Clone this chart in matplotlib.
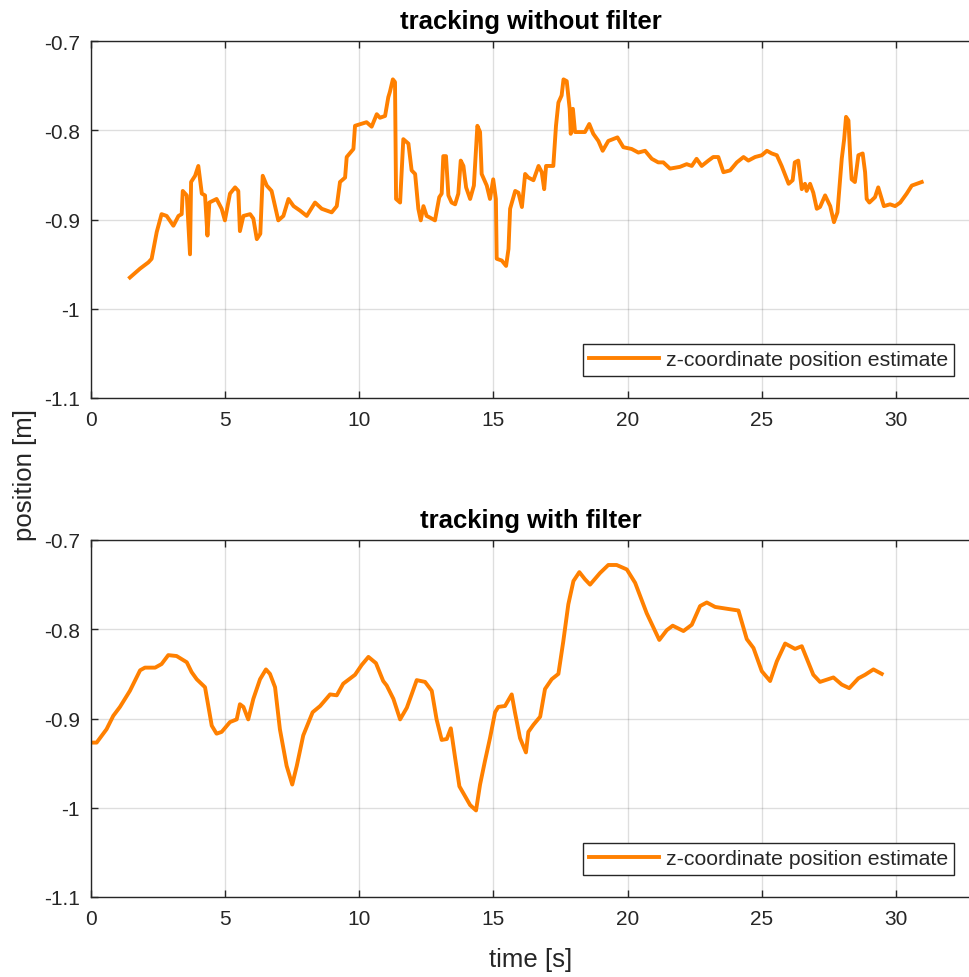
"""
z-coordinate tracking, with and without the filter
"""

import matplotlib
matplotlib.use('Agg')
from matplotlib import pyplot as plt

plt.rcParams['font.family'] = ['Liberation Sans', 'DejaVu Sans']

# raw estimate (no filter)
t_raw = [1.45, 1.83, 2.14, 2.26, 2.45, 2.63, 2.82, 3.07, 3.26, 3.38, 3.42, 3.57,
         3.69, 3.73, 3.88, 4.00, 4.13, 4.25, 4.34, 4.41, 4.68, 4.87, 4.99, 5.18,
         5.37, 5.49, 5.55, 5.68, 5.93, 6.05, 6.18, 6.31, 6.40, 6.55, 6.73, 6.98,
         7.17, 7.36, 7.55, 7.79, 8.04, 8.35, 8.60, 8.97, 9.16, 9.28, 9.47, 9.53,
         9.78, 9.84, 10.27, 10.46, 10.65, 10.77, 10.96, 11.08, 11.14, 11.25, 11.33,
         11.37, 11.52, 11.64, 11.83, 11.95, 12.08, 12.20, 12.29, 12.39, 12.51,
         12.64, 12.82, 12.98, 13.07, 13.13, 13.23, 13.32, 13.44, 13.57, 13.69,
         13.78, 13.88, 13.98, 14.13, 14.27, 14.40, 14.50, 14.56, 14.75, 14.87,
         14.99, 15.09, 15.12, 15.31, 15.47, 15.56, 15.62, 15.81, 15.93, 16.06,
         16.18, 16.30, 16.49, 16.68, 16.80, 16.89, 16.96, 17.23, 17.33, 17.42,
         17.54, 17.61, 17.73, 17.84, 17.88, 17.96, 18.04, 18.22, 18.41, 18.57,
         18.72, 18.91, 19.07, 19.28, 19.62, 19.84, 20.15, 20.40, 20.65, 20.90,
         21.14, 21.33, 21.58, 21.95, 22.20, 22.39, 22.57, 22.76, 23.01, 23.19,
         23.38, 23.57, 23.82, 24.07, 24.32, 24.50, 24.75, 25.00, 25.19, 25.37,
         25.56, 25.74, 26.00, 26.15, 26.23, 26.36, 26.49, 26.61, 26.67, 26.80,
         26.92, 27.05, 27.17, 27.36, 27.55, 27.69, 27.82, 27.92, 27.98, 28.07,
         28.14, 28.23, 28.30, 28.35, 28.47, 28.60, 28.76, 28.85, 28.91, 29.01,
         29.22, 29.34, 29.47, 29.55, 29.78, 29.97, 30.16, 30.40, 30.59, 30.77,
         30.96]
z_raw = [-0.965, -0.955, -0.948, -0.944, -0.914, -0.894, -0.896, -0.907, -0.896,
         -0.894, -0.868, -0.873, -0.939, -0.858, -0.851, -0.840, -0.871, -0.873,
         -0.918, -0.881, -0.877, -0.888, -0.901, -0.871, -0.864, -0.868, -0.913,
         -0.896, -0.894, -0.899, -0.922, -0.916, -0.851, -0.862, -0.868, -0.901,
         -0.896, -0.877, -0.885, -0.890, -0.896, -0.881, -0.888, -0.892, -0.885,
         -0.858, -0.853, -0.830, -0.821, -0.795, -0.791, -0.796, -0.782, -0.786,
         -0.784, -0.763, -0.757, -0.743, -0.746, -0.877, -0.881, -0.810, -0.815,
         -0.845, -0.849, -0.888, -0.901, -0.885, -0.896, -0.898, -0.901, -0.875,
         -0.871, -0.829, -0.829, -0.873, -0.881, -0.883, -0.871, -0.834, -0.840,
         -0.864, -0.877, -0.862, -0.795, -0.802, -0.849, -0.862, -0.877, -0.855,
         -0.877, -0.944, -0.946, -0.952, -0.933, -0.888, -0.868, -0.870, -0.886,
         -0.849, -0.853, -0.856, -0.840, -0.847, -0.866, -0.840, -0.840, -0.795,
         -0.769, -0.761, -0.743, -0.745, -0.776, -0.804, -0.776, -0.802, -0.802,
         -0.802, -0.793, -0.804, -0.812, -0.823, -0.812, -0.808, -0.819, -0.821,
         -0.825, -0.823, -0.832, -0.836, -0.836, -0.843, -0.841, -0.838, -0.840,
         -0.832, -0.840, -0.834, -0.830, -0.830, -0.847, -0.845, -0.836, -0.830,
         -0.834, -0.830, -0.828, -0.823, -0.826, -0.828, -0.840, -0.860, -0.856,
         -0.836, -0.834, -0.866, -0.860, -0.868, -0.860, -0.870, -0.888, -0.886,
         -0.873, -0.885, -0.903, -0.892, -0.855, -0.832, -0.810, -0.785, -0.789,
         -0.832, -0.855, -0.858, -0.828, -0.826, -0.847, -0.877, -0.881, -0.875,
         -0.864, -0.877, -0.885, -0.883, -0.885, -0.881, -0.871, -0.862, -0.860,
         -0.858]

# filtered estimate
t_filt = [0.00, 0.21, 0.58, 0.83, 1.08, 1.45, 1.83, 2.01, 2.39, 2.63, 2.88, 3.19,
          3.57, 3.75, 3.94, 4.25, 4.50, 4.68, 4.87, 5.18, 5.43, 5.55, 5.68, 5.86,
          6.05, 6.30, 6.52, 6.67, 6.86, 7.04, 7.29, 7.50, 7.67, 7.91, 8.26, 8.54,
          8.91, 9.16, 9.40, 9.84, 10.09, 10.34, 10.62, 10.89, 11.02, 11.27, 11.52,
          11.77, 11.95, 12.14, 12.45, 12.70, 12.88, 13.07, 13.26, 13.41, 13.57,
          13.73, 13.94, 14.13, 14.35, 14.50, 14.68, 14.87, 15.06, 15.18, 15.43,
          15.68, 15.80, 15.99, 16.21, 16.30, 16.49, 16.74, 16.92, 17.17, 17.42,
          17.60, 17.79, 17.98, 18.20, 18.41, 18.60, 18.97, 19.28, 19.59, 19.97,
          20.28, 20.71, 21.18, 21.46, 21.68, 22.08, 22.39, 22.70, 22.95, 23.26,
          23.69, 24.13, 24.44, 24.69, 25.00, 25.31, 25.56, 25.87, 26.24, 26.49,
          26.92, 27.17, 27.67, 27.98, 28.26, 28.60, 28.85, 29.16, 29.47]
z_filt = [-0.927, -0.927, -0.912, -0.897, -0.887, -0.869, -0.846, -0.843, -0.843,
          -0.839, -0.829, -0.830, -0.837, -0.848, -0.856, -0.865, -0.908, -0.917,
          -0.915, -0.904, -0.901, -0.884, -0.887, -0.901, -0.878, -0.856, -0.845,
          -0.850, -0.865, -0.912, -0.953, -0.974, -0.953, -0.919, -0.893, -0.886,
          -0.873, -0.874, -0.861, -0.851, -0.840, -0.831, -0.838, -0.858, -0.863,
          -0.878, -0.901, -0.888, -0.873, -0.857, -0.859, -0.869, -0.901, -0.924,
          -0.923, -0.911, -0.944, -0.976, -0.987, -0.997, -1.003, -0.974, -0.948,
          -0.922, -0.893, -0.887, -0.886, -0.873, -0.893, -0.922, -0.938, -0.915,
          -0.907, -0.898, -0.867, -0.856, -0.850, -0.814, -0.772, -0.746, -0.736,
          -0.744, -0.750, -0.737, -0.728, -0.728, -0.733, -0.748, -0.782, -0.812,
          -0.801, -0.796, -0.802, -0.795, -0.774, -0.770, -0.775, -0.777, -0.779,
          -0.811, -0.821, -0.847, -0.858, -0.836, -0.816, -0.822, -0.819, -0.851,
          -0.859, -0.854, -0.862, -0.866, -0.855, -0.851, -0.845, -0.850]

y_ticks = [-1.1, -1.0, -0.9, -0.8, -0.7]
y_tick_labels = ['-1.1', '-1', '-0.9', '-0.8', '-0.7']
x_ticks = [0, 5, 10, 15, 20, 25, 30]

LINE_COLOR = '#ff8000'
DARK = '#262626'


def style_axes(ax, title):
    """Boxed axes with light grid and inward ticks"""
    ax.set_xlim(0, 32.76)
    ax.set_ylim(-1.1, -0.7)
    ax.set_xticks(x_ticks)
    ax.set_yticks(y_ticks)
    ax.set_yticklabels(y_tick_labels)
    ax.grid(True, color=DARK, alpha=0.15, linewidth=1.0)
    ax.set_axisbelow(True)
    ax.tick_params(direction='in', length=5, width=1, color=DARK,
                   labelcolor=DARK, labelsize=15, top=True)
    ax.tick_params(axis='x', pad=9)
    ax.tick_params(axis='y', pad=8)
    ax.spines['right'].set_visible(False)
    for side in ('left', 'top', 'bottom'):
        ax.spines[side].set_color(DARK)
        ax.spines[side].set_linewidth(1.0)
    ax.set_title(title, fontsize=18.5, fontweight='bold', color='black', pad=9)
    leg = ax.legend(loc='lower right', bbox_to_anchor=(0.982, 0.062),
                    fontsize=15.3, frameon=True, fancybox=False,
                    framealpha=1, edgecolor=DARK, borderpad=0.3,
                    handlelength=3.3, handletextpad=0.3, borderaxespad=0)
    leg.get_frame().set_linewidth(1.0)
    for text in leg.get_texts():
        text.set_color(DARK)


fig = plt.figure(figsize=(9.7, 9.78), dpi=100)
ax1 = fig.add_axes([91 / 970, 1 - 399 / 978, 1 - 91 / 970, 357 / 978])
ax2 = fig.add_axes([91 / 970, 1 - 898 / 978, 1 - 91 / 970, 357 / 978])

ax1.plot(t_raw, z_raw, color=LINE_COLOR, linewidth=2.8,
         label='z-coordinate position estimate')
style_axes(ax1, 'tracking without filter')

ax2.plot(t_filt, z_filt, color=LINE_COLOR, linewidth=2.8,
         label='z-coordinate position estimate')
style_axes(ax2, 'tracking with filter')

fig.text(25 / 970, 1 - 475 / 978, 'position [m]', rotation=90,
         ha='center', va='center', fontsize=18.5, color=DARK)
fig.text(531 / 970, 1 - 960 / 978, 'time [s]', ha='center', va='center',
         fontsize=18.5, color=DARK)

fig.savefig('out.png', dpi=100)
